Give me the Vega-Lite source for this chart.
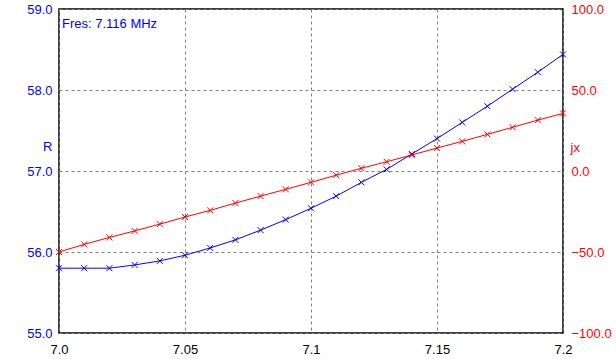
{
  "$schema": "https://vega.github.io/schema/vega-lite/v6.json",
  "autosize": "none",
  "width": 504,
  "height": 324,
  "padding": {"left": 59, "top": 9, "right": 53, "bottom": 26},
  "background": "white",
  "config": {
    "view": {"stroke": "black", "strokeWidth": 1.5},
    "font": "Liberation Sans",
    "axis": {"labelFont": "Liberation Sans", "titleFont": "Liberation Sans", "labelFontSize": 13, "titleFontSize": 13, "titleFontWeight": "normal", "ticks": false, "domain": false, "gridColor": "#808080", "gridDash": [3, 3], "gridOpacity": 1, "gridWidth": 1}
  },
  "datasets": {
    "sweep": [
      {"f": 7.00, "R": 55.80, "jx": -50.0},
      {"f": 7.01, "R": 55.80, "jx": -45.3},
      {"f": 7.02, "R": 55.80, "jx": -41.0},
      {"f": 7.03, "R": 55.84, "jx": -37.0},
      {"f": 7.04, "R": 55.89, "jx": -32.8},
      {"f": 7.05, "R": 55.96, "jx": -28.4},
      {"f": 7.06, "R": 56.05, "jx": -24.3},
      {"f": 7.07, "R": 56.15, "jx": -19.8},
      {"f": 7.08, "R": 56.27, "jx": -15.5},
      {"f": 7.09, "R": 56.40, "jx": -11.3},
      {"f": 7.10, "R": 56.54, "jx": -7.0},
      {"f": 7.11, "R": 56.69, "jx": -2.6},
      {"f": 7.12, "R": 56.86, "jx": 1.7},
      {"f": 7.13, "R": 57.02, "jx": 5.7},
      {"f": 7.14, "R": 57.21, "jx": 9.9},
      {"f": 7.15, "R": 57.40, "jx": 14.2},
      {"f": 7.16, "R": 57.60, "jx": 18.3},
      {"f": 7.17, "R": 57.80, "jx": 22.6},
      {"f": 7.18, "R": 58.01, "jx": 27.0},
      {"f": 7.19, "R": 58.22, "jx": 31.4},
      {"f": 7.20, "R": 58.44, "jx": 35.6}
    ],
    "note": [{"label": "Fres: 7.116 MHz", "fx": 7.0, "ry": 59.0}]
  },
  "layer": [
    {
      "data": {"name": "sweep"},
      "encoding": {
        "x": {"field": "f", "type": "quantitative", "scale": {"domain": [7.0, 7.2], "nice": false, "zero": false},
          "axis": {"title": null, "values": [7.0, 7.05, 7.1, 7.15, 7.2], "labelPadding": 10, "labelColor": "black", "labelExpr": "datum.value == 7 ? '7.0' : datum.value == 7.1 ? '7.1' : datum.value == 7.2 ? '7.2' : format(datum.value, '.2f')", "grid": true, "labelFlush": false}},
        "y": {"field": "R", "type": "quantitative", "scale": {"domain": [55, 59], "nice": false, "zero": false},
          "axis": {"title": "R", "titleColor": "#0000ff", "titleAngle": 0, "titleAlign": "right", "titleBaseline": "middle", "titleX": -7, "titleY": 137, "labelColor": "#0000ff", "format": ".1f", "values": [55, 56, 57, 58, 59], "labelPadding": 7, "grid": true}}
      },
      "layer": [
        {"mark": {"type": "line", "color": "#0000ff", "strokeWidth": 1}},
        {"mark": {"type": "point", "shape": "M-1,-1L1,1M-1,1L1,-1", "size": 36, "filled": false, "color": "#0000ff", "strokeWidth": 1, "opacity": 1}},
        {
          "data": {"name": "note"},
          "mark": {"type": "text", "align": "left", "baseline": "top", "dx": 3, "dy": 9, "color": "#0000ff", "fontSize": 13, "font": "Liberation Sans"},
          "encoding": {
            "x": {"field": "fx", "type": "quantitative"},
            "y": {"field": "ry", "type": "quantitative"},
            "text": {"field": "label"}
          }
        }
      ]
    },
    {
      "data": {"name": "sweep"},
      "encoding": {
        "x": {"field": "f", "type": "quantitative", "scale": {"domain": [7.0, 7.2], "nice": false, "zero": false}},
        "y": {"field": "jx", "type": "quantitative", "scale": {"domain": [-100, 100], "nice": false, "zero": false},
          "axis": {"orient": "right", "title": "jx", "titleColor": "#ff0000", "titleAngle": 0, "titleAlign": "left", "titleBaseline": "middle", "titleX": 7, "titleY": 138, "labelColor": "#ff0000", "format": ".1f", "values": [-100, -50, 0, 50, 100], "labelPadding": 8, "grid": false}}
      },
      "layer": [
        {"mark": {"type": "line", "color": "#ff0000", "strokeWidth": 1}},
        {"mark": {"type": "point", "shape": "M-1,-1L1,1M-1,1L1,-1", "size": 36, "filled": false, "color": "#ff0000", "strokeWidth": 1, "opacity": 1}}
      ]
    }
  ],
  "resolve": {"scale": {"y": "independent"}}
}
